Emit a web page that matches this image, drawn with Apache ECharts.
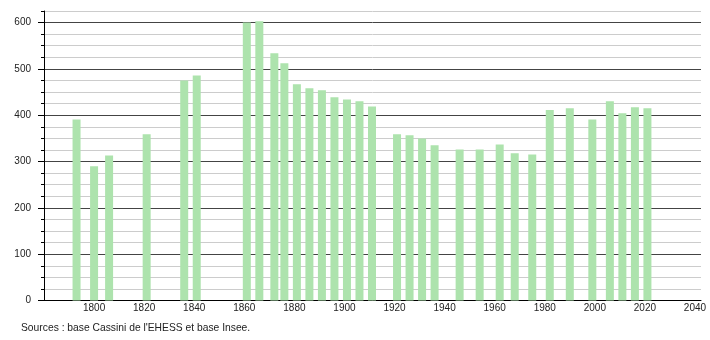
<!DOCTYPE html>
<html><head><meta charset="utf-8">
<script src="https://cdn.jsdelivr.net/npm/echarts@6/dist/echarts.min.js"></script>
<style>html,body{margin:0;padding:0;background:#fff}#c{width:710px;height:340px}</style>
</head><body><div id="c"></div>
<script>
const years = [1793,1800,1806,1821,1836,1841,1861,1866,1872,1876,1881,1886,1891,1896,1901,1906,1911,1921,1926,1931,1936,1946,1954,1962,1968,1975,1982,1990,1999,2006,2011,2016,2021];
const population = [391,290,313,359,475,486,600,603,534,512,467,458,454,439,434,430,419,359,357,350,335,326,326,337,318,315,411,415,391,430,404,417,415];
const yTicks = [0,100,200,300,400,500,600];
const xTicks = [1800,1820,1840,1860,1880,1900,1920,1940,1960,1980,2000,2020,2040];
const sourceText = "Sources : base Cassini de l'EHESS et base Insee.";

const chart = echarts.init(document.getElementById('c'), null, {renderer:'canvas'});
const font = 'Liberation Sans, Arial, sans-serif';
chart.setOption({
  animation:false,
  grid:{left:44,right:9,top:11,bottom:39.5,containLabel:false},
  xAxis:{type:'value',min:1780,max:2042.4,interval:20,
    axisLine:{show:true,lineStyle:{color:'#000',width:1}},
    axisTick:{show:false},
    splitLine:{show:false},
    axisLabel:{showMinLabel:false,showMaxLabel:false,color:'#222',fontSize:10,fontFamily:font,margin:3,
      formatter:v=>xTicks.includes(v)?String(v):''}},
  yAxis:[{type:'value',min:0,max:625,interval:25,
    axisLine:{show:true,lineStyle:{color:'#000',width:1}},
    axisTick:{show:true,length:3,lineStyle:{color:'#000'}},
    splitLine:{show:true,lineStyle:{color:['#444','#ccc','#ccc','#ccc'],width:1}},
    axisLabel:{color:'#222',fontSize:10,fontFamily:font,margin:13,
      formatter:v=>yTicks.includes(v)?String(v):''}},
   {type:'value',min:0,max:625,interval:100,position:'left',
    axisLine:{show:false},
    axisTick:{show:true,length:6,lineStyle:{color:'#000'},customValues:yTicks},
    splitLine:{show:false},axisLabel:{show:false}}],
  series:[{type:'bar',yAxisIndex:0,barWidth:8,
    itemStyle:{color:'#ade3ad'},
    data:years.map((y,i)=>[y,population[i]])}],
  graphic:[{type:'text',left:21,top:323.5,style:{text:sourceText,fill:'#222',font:'10.3px '+font}}]
});
</script></body></html>
